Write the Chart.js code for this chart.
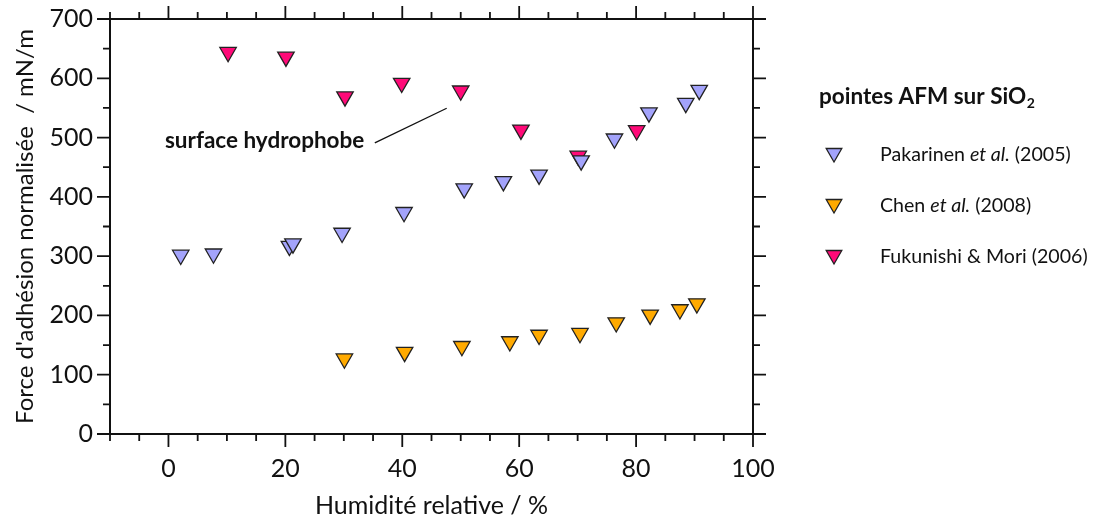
<!DOCTYPE html>
<html><head><meta charset="utf-8">
<script src="https://cdn.jsdelivr.net/npm/chart.js@4/dist/chart.umd.min.js"></script>
<style>html,body{margin:0;padding:0;background:#fff}#wrap{width:1096px;height:522px}</style>
</head><body><div id="wrap"><canvas id="c" width="1096" height="522"></canvas></div>
<script>
// ---- data ----
const seriesNames = ['Pakarinen et al. (2005)', 'Chen et al. (2008)', 'Fukunishi & Mori (2006)'];
const seriesColors = ['#a3a3fb', '#ffaa00', '#ff0a78'];
const pakarinenX = [2.1, 7.7, 20.7, 21.3, 29.7, 40.3, 50.6, 57.3, 63.4, 70.6, 76.3, 82.2, 88.5, 90.8];
const pakarinenY = [302, 304, 317, 321, 339, 374, 414, 426, 437, 461, 498, 542, 558, 580];
const chenX = [30.1, 40.4, 50.2, 58.4, 63.4, 70.4, 76.6, 82.4, 87.5, 90.4];
const chenY = [127, 138, 148, 156, 167, 170, 188, 201, 210, 220];
const fukunishiX = [10.2, 20.1, 30.2, 39.9, 50.0, 60.3, 70.1, 80.1];
const fukunishiY = [644, 636, 569, 592, 579, 513, 469, 512];
const xTickLabels = [0, 20, 40, 60, 80, 100];
const yTickLabels = [0, 100, 200, 300, 400, 500, 600, 700];
const xTitle = 'Humidité relative / %';
const yTitle = "Force d'adhésion normalisée  / mN/m";
const legendTitle = 'pointes AFM sur SiO';
const annotationText = 'surface hydrophobe';

const FONT = 'Lato';
const toPts = (xs, ys) => xs.map((x, i) => ({x: x, y: ys[i]}));

const frameTicks = {
  id: 'frameTicks',
  beforeDatasetsDraw(chart) {
    const ctx = chart.ctx, a = chart.chartArea;
    const xs = chart.scales.x, ys = chart.scales.y;
    ctx.save();
    ctx.strokeStyle = '#111';
    ctx.lineCap = 'butt';
    ctx.lineWidth = 2;
    ctx.beginPath();
    ctx.moveTo(a.left, a.top); ctx.lineTo(a.right, a.top);
    ctx.moveTo(a.left, a.bottom); ctx.lineTo(a.right, a.bottom);
    ctx.moveTo(a.left, a.top); ctx.lineTo(a.left, a.bottom);
    ctx.moveTo(a.right, a.top); ctx.lineTo(a.right, a.bottom);
    ctx.stroke();
    ctx.lineWidth = 1.8;
    ctx.beginPath();
    for (let v = xs.min; v <= xs.max + 1e-9; v += 5) {
      const p = xs.getPixelForValue(v);
      const len = (Math.round(v) % 20 === 0) ? 13 : 7;
      ctx.moveTo(p, a.bottom); ctx.lineTo(p, a.bottom + len);
      ctx.moveTo(p, a.top); ctx.lineTo(p, a.top - len);
    }
    for (let v = ys.min; v <= ys.max + 1e-9; v += 50) {
      const p = ys.getPixelForValue(v);
      const len = (Math.round(v) % 100 === 0) ? 13 : 7;
      ctx.moveTo(a.left, p); ctx.lineTo(a.left - len, p);
      ctx.moveTo(a.right, p); ctx.lineTo(a.right + len, p);
    }
    ctx.stroke();
    ctx.restore();
  },
  afterDraw(chart) {
    const ctx = chart.ctx;
    const xs = chart.scales.x, ys = chart.scales.y;
    ctx.save();
    // annotation
    ctx.fillStyle = '#111';
    ctx.font = 'bold 22.5px ' + FONT;
    ctx.textBaseline = 'middle';
    ctx.textAlign = 'left';
    ctx.fillText(annotationText, xs.getPixelForValue(-0.6), ys.getPixelForValue(495));
    ctx.strokeStyle = '#111';
    ctx.lineWidth = 1.3;
    ctx.beginPath();
    ctx.moveTo(xs.getPixelForValue(35.3), ys.getPixelForValue(491));
    ctx.lineTo(xs.getPixelForValue(47.6), ys.getPixelForValue(549.5));
    ctx.stroke();
    // legend
    const lx = 819;
    ctx.font = 'bold 22.5px ' + FONT;
    ctx.fillText(legendTitle, lx, 97);
    const tw = ctx.measureText(legendTitle).width;
    ctx.font = 'bold 14px ' + FONT;
    ctx.fillText('2', lx + tw + 0.5, 103);
    const rowY = [155, 206, 257];
    chart.data.datasets.forEach((ds, i) => {
      ctx.fillStyle = ds.backgroundColor;
      ctx.strokeStyle = '#222';
      Chart.helpers.drawPoint(ctx, {pointStyle: 'triangle', rotation: 180, radius: 9, borderWidth: 1.2}, 834, rowY[i] - 2);
      ctx.fillStyle = '#111';
      let x = 880;
      const parts = ds.label.split(/(et al\.)/);
      parts.forEach(p => {
        if (!p) return;
        ctx.font = (p === 'et al.' ? 'italic ' : '') + '19.6px ' + FONT;
        ctx.fillText(p, x, rowY[i]);
        x += ctx.measureText(p).width;
      });
    });
    ctx.restore();
  }
};

const mk = (label, color, pts) => ({
  label: label, data: pts,
  backgroundColor: color, borderColor: '#222', borderWidth: 1.3,
  pointStyle: 'triangle', rotation: 180, pointRadius: 9.5, pointHoverRadius: 9.5
});

new Chart(document.getElementById('c'), {
  type: 'scatter',
  data: {
    datasets: [
      mk(seriesNames[0], seriesColors[0], toPts(pakarinenX, pakarinenY)),
      mk(seriesNames[1], seriesColors[1], toPts(chenX, chenY)),
      mk(seriesNames[2], seriesColors[2], toPts(fukunishiX, fukunishiY))
    ]
  },
  options: {
    responsive: false, animation: false, devicePixelRatio: 1,
    layout: {padding: {left: 0, top: 19, right: 343, bottom: 0}},
    plugins: {legend: {display: false}, tooltip: {enabled: false}},
    scales: {
      x: {
        type: 'linear', min: -10, max: 100,
        grid: {display: true, drawOnChartArea: false, drawTicks: true, tickLength: 13, color: 'rgba(0,0,0,0)'},
        border: {display: false},
        ticks: {stepSize: 10, padding: 7, color: '#111', font: {family: FONT, size: 25}, maxRotation: 0, autoSkip: false,
          callback: v => xTickLabels.includes(v) ? String(v) : ''},
        title: {display: true, text: xTitle, color: '#111', font: {family: FONT, size: 25, lineHeight: 1.2}, padding: {top: 0, bottom: 1}},
        afterFit: s => { s.height = 88; }
      },
      y: {
        type: 'linear', min: 0, max: 700,
        grid: {display: true, drawOnChartArea: false, drawTicks: true, tickLength: 13, color: 'rgba(0,0,0,0)'},
        border: {display: false},
        ticks: {stepSize: 100, padding: 4, color: '#111', font: {family: FONT, size: 25}, autoSkip: false,
          callback: v => yTickLabels.includes(v) ? String(v) : ''},
        title: {display: true, text: yTitle, color: '#111', font: {family: FONT, size: 24, lineHeight: 1.2}, padding: {top: 11, bottom: 0}},
        afterFit: s => { s.width = 110; }
      }
    }
  },
  plugins: [frameTicks]
});
</script></body></html>
